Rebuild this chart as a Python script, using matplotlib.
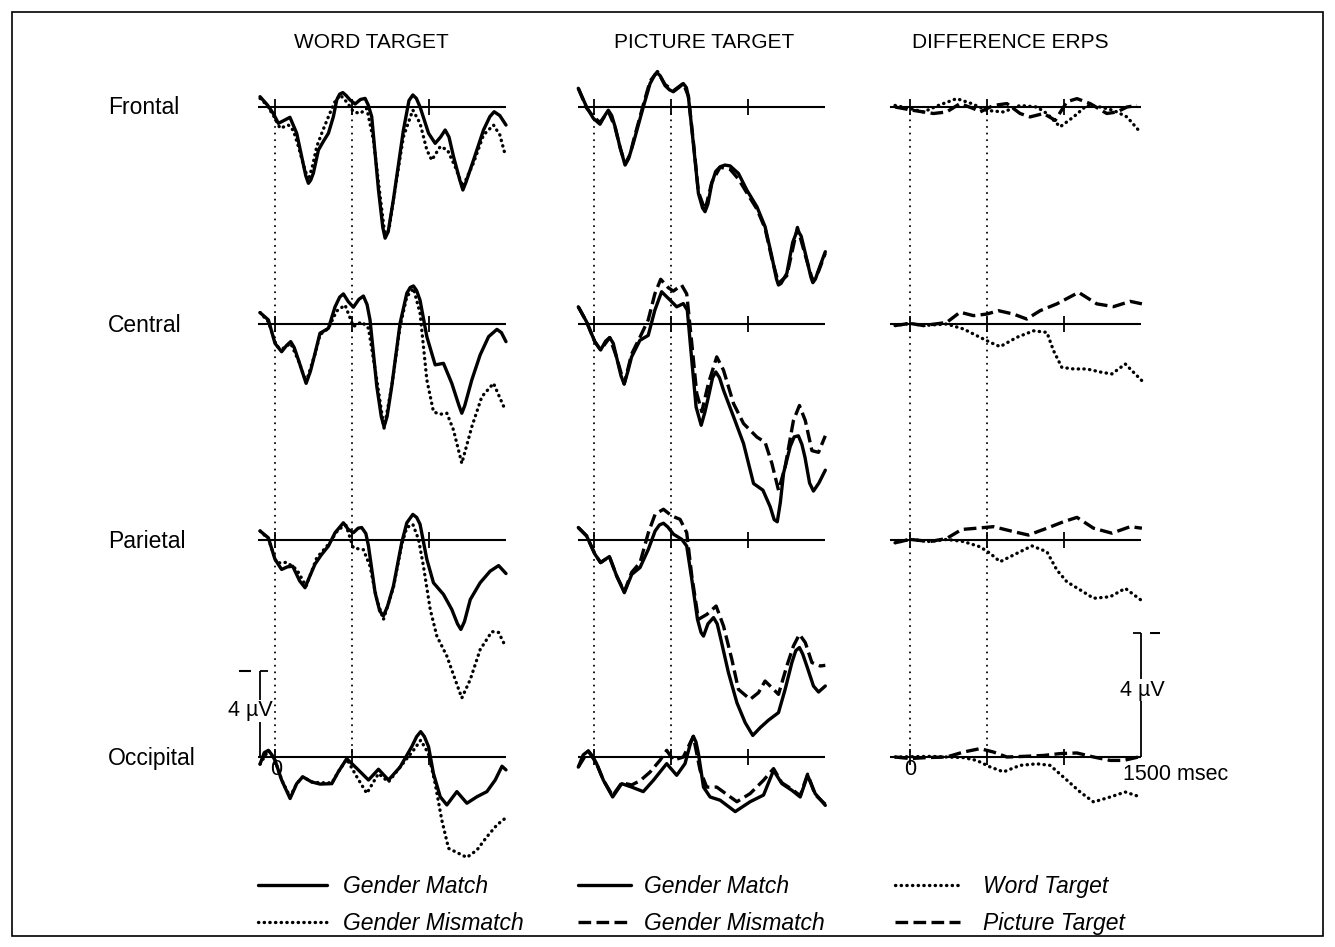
import matplotlib.pyplot as plt
from matplotlib.lines import Line2D
from matplotlib.patches import Rectangle

plt.rcParams['font.family'] = ['Liberation Sans', 'DejaVu Sans']

# column titles, row labels, legend labels
columns = ['WORD TARGET', 'PICTURE TARGET', 'DIFFERENCE ERPS']
sites = ['Frontal', 'Central', 'Parietal', 'Occipital']
legend_labels = [['Gender Match', 'Gender Mismatch'],
                 ['Gender Match', 'Gender Mismatch'],
                 ['Word Target', 'Picture Target']]
tick_ms = [0, 500, 1000]
ref_ms = [0, 500]

# grand averages: (msec, microvolt), negative plotted up
word_frontal_match = [(-97, -0.48), (-50, -0.1), (-11, 0.3), (22, 0.76), (60, 0.62), (97, 0.48), (141, 1.22),
                      (173, 2.3), (200, 3.2), (217, 3.55), (232, 3.4), (249, 3.08), (282, 2.0), (314, 1.6),
                      (347, 1.22), (379, 0.45), (401, -0.33), (420, -0.6), (440, -0.67), (460, -0.55),
                      (487, -0.33), (520, -0.14), (555, -0.35), (585, -0.4), (605, -0.1), (628, 0.45),
                      (672, 3.86), (700, 5.6), (715, 6.1), (735, 5.8), (769, 4.3), (834, 1.07), (870, -0.3),
                      (895, -0.56), (918, -0.4), (942, 0.0), (997, 1.22), (1040, 1.69), (1075, 1.4),
                      (1105, 1.07), (1130, 1.4), (1159, 2.3), (1200, 3.4), (1220, 3.86), (1240, 3.5),
                      (1289, 2.47), (1354, 1.07), (1395, 0.45), (1423, 0.22), (1460, 0.4), (1500, 0.84)]
word_frontal_mismatch = [(-97, -0.4), (-54, -0.1), (-10, 0.4), (33, 0.99), (87, 0.84), (120, 1.1), (152, 1.84),
                         (185, 2.7), (217, 3.4), (245, 2.7), (271, 1.84), (310, 1.1), (347, 0.45), (385, -0.2),
                         (423, -0.56), (470, -0.2), (509, 0.22), (553, 0.3), (596, 0.07), (639, 1.53),
                         (683, 4.17), (715, 6.03), (740, 5.7), (769, 4.3), (834, 1.38), (895, 0.14), (942, 0.76),
                         (986, 2.0), (1018, 2.47), (1073, 1.84), (1120, 2.0), (1170, 2.78), (1220, 3.7),
                         (1289, 2.6), (1354, 1.3), (1419, 0.84), (1460, 1.3), (1495, 2.23)]
word_central_match = [(-97, -0.53), (-43, -0.19), (0, 0.9), (43, 1.29), (75, 1.0), (102, 0.82), (125, 1.1),
                      (152, 1.67), (202, 2.76), (230, 2.2), (260, 1.36), (292, 0.43), (347, 0.2), (390, -0.8),
                      (420, -1.25), (444, -1.4), (475, -1.05), (509, -0.78), (545, -1.15), (574, -1.3),
                      (598, -0.9), (617, -0.19), (661, 2.9), (690, 4.3), (708, 4.78), (728, 4.3), (758, 2.9),
                      (812, -0.03), (856, -1.43), (878, -1.7), (899, -1.77), (920, -1.55), (942, -1.1),
                      (986, 0.59), (1040, 1.9), (1094, 1.83), (1148, 2.76), (1195, 3.8), (1213, 4.15),
                      (1232, 3.8), (1278, 2.6), (1332, 1.44), (1387, 0.59), (1441, 0.25), (1470, 0.4),
                      (1500, 0.82)]
word_central_mismatch = [(-97, -0.53), (-43, -0.1), (11, 1.05), (54, 1.13), (102, 0.9), (152, 1.7), (202, 2.7),
                         (260, 1.4), (292, 0.5), (347, 0.2), (400, -0.6), (455, -0.88), (509, 0.12),
                         (563, -0.1), (607, 0.2), (661, 2.6), (708, 4.85), (758, 2.9), (812, 0.12),
                         (856, -1.27), (899, -1.66), (942, -0.5), (986, 2.6), (1029, 4.08), (1070, 4.2),
                         (1116, 4.15), (1159, 4.93), (1213, 6.48), (1278, 4.78), (1343, 3.38), (1419, 2.76),
                         (1495, 4.0)]
word_parietal_match = [(-97, -0.42), (-43, -0.1), (0, 0.9), (43, 1.37), (80, 1.25), (115, 1.22), (160, 1.9),
                       (195, 2.22), (225, 1.7), (260, 1.12), (300, 0.7), (347, 0.28), (390, -0.34),
                       (444, -0.8), (475, -0.5), (509, -0.34), (540, -0.55), (563, -0.58), (590, -0.3),
                       (607, 0.28), (650, 2.45), (680, 3.3), (704, 3.53), (730, 3.1), (769, 2.14),
                       (823, 0.12), (856, -0.8), (895, -1.19), (920, -1.05), (942, -0.73), (986, 0.9),
                       (1029, 1.99), (1094, 2.53), (1148, 3.23), (1185, 3.9), (1207, 4.16), (1230, 3.8),
                       (1268, 2.77), (1332, 1.99), (1397, 1.45), (1452, 1.19), (1500, 1.56)]
word_parietal_mismatch = [(-97, -0.42), (-43, -0.05), (11, 1.07), (76, 1.04), (141, 1.37), (202, 2.15),
                          (271, 0.83), (347, 0.2), (412, -0.5), (461, -0.68), (509, 0.37), (574, 0.45),
                          (617, 1.22), (661, 2.77), (704, 3.7), (769, 2.2), (823, 0.2), (856, -0.58),
                          (895, -0.73), (932, -0.03), (964, 1.22), (1008, 3.23), (1051, 4.47), (1116, 5.4),
                          (1170, 6.49), (1213, 7.35), (1268, 6.49), (1332, 5.1), (1408, 4.26), (1452, 4.3),
                          (1495, 4.93)]
word_occipital_match = [(-97, 0.33), (-70, -0.2), (-43, -0.31), (-20, -0.1), (0, 0.15), (43, 1.07), (98, 1.93),
                        (141, 1.24), (180, 0.92), (238, 1.16), (293, 1.26), (369, 1.24), (412, 0.68),
                        (466, 0.08), (531, 0.53), (607, 1.07), (672, 0.57), (737, 1.07), (812, 0.47),
                        (888, -0.48), (920, -0.95), (946, -1.18), (970, -0.95), (997, -0.48), (1029, 0.77),
                        (1073, 1.85), (1116, 2.23), (1181, 1.61), (1246, 2.15), (1311, 1.85), (1376, 1.61),
                        (1430, 1.07), (1474, 0.43), (1500, 0.6)]
word_occipital_mismatch = [(-97, 0.33), (-43, -0.31), (0, 0.15), (43, 1.07), (98, 1.85), (141, 1.24),
                           (180, 0.92), (238, 1.16), (293, 1.2), (369, 1.2), (412, 0.68), (466, 0.1),
                           (531, 0.92), (596, 1.69), (672, 0.77), (737, 1.16), (812, 0.47), (899, -0.31),
                           (946, -0.78), (997, -0.15), (1040, 1.24), (1083, 2.93), (1127, 4.25), (1192, 4.48),
                           (1246, 4.67), (1311, 4.33), (1376, 3.71), (1441, 3.16), (1495, 2.85)]

pic_frontal_match = [(-102, -0.87), (-48, 0.0), (-4, 0.53), (39, 0.8), (70, 0.4), (93, 0.15), (115, 0.4),
                     (137, 0.92), (170, 1.9), (202, 2.7), (225, 2.4), (255, 1.69), (320, 0.0), (364, -1.09),
                     (395, -1.5), (412, -1.58), (430, -1.45), (461, -1.0), (490, -0.8), (515, -0.71),
                     (550, -0.9), (580, -1.09), (600, -0.9), (613, -0.47), (645, 1.69), (678, 4.02),
                     (705, 4.7), (721, 4.87), (740, 4.5), (765, 3.55), (790, 3.0), (819, 2.78), (850, 2.7),
                     (884, 2.74), (938, 3.09), (993, 3.87), (1058, 4.64), (1111, 5.57), (1155, 6.96),
                     (1185, 8.0), (1198, 8.28), (1215, 8.2), (1252, 7.74), (1290, 6.3), (1321, 5.72),
                     (1345, 6.0), (1372, 6.8), (1408, 7.9), (1421, 8.17), (1438, 8.0), (1458, 7.58),
                     (1502, 6.73)]
pic_frontal_mismatch = [(-102, -0.87), (-48, 0.05), (-4, 0.45), (39, 0.72), (93, 0.2), (137, 0.95), (170, 1.9),
                        (202, 2.65), (235, 2.2), (255, 1.6), (320, -0.1), (364, -1.2), (412, -1.65),
                        (461, -1.05), (515, -0.75), (580, -1.1), (613, -0.5), (645, 1.6), (678, 3.95),
                        (721, 4.8), (765, 3.5), (819, 2.8), (884, 2.9), (938, 3.35), (993, 4.0), (1058, 4.75),
                        (1111, 5.65), (1155, 7.05), (1198, 8.2), (1252, 7.85), (1321, 5.6), (1372, 6.9),
                        (1421, 8.1), (1458, 7.65), (1502, 6.8)]
pic_central_match = [(-102, -0.8), (-48, -0.1), (5, 0.82), (43, 1.21), (75, 0.8), (102, 0.63), (125, 0.9),
                     (146, 1.53), (175, 2.4), (196, 2.79), (220, 2.2), (244, 1.53), (298, 0.76), (352, 0.53),
                     (395, -0.64), (439, -1.5), (493, -1.12), (537, -0.8), (580, -0.95), (606, -0.64),
                     (635, 1.69), (663, 3.86), (696, 4.71), (720, 4.1), (743, 3.39), (770, 2.5), (791, 2.23),
                     (815, 2.5), (841, 3.08), (906, 4.31), (971, 5.56), (1036, 7.42), (1097, 7.73),
                     (1144, 8.5), (1170, 9.1), (1190, 9.2), (1210, 8.3), (1231, 6.93), (1274, 5.7),
                     (1300, 5.25), (1327, 5.2), (1350, 5.6), (1370, 6.2), (1400, 7.4), (1425, 7.77),
                     (1460, 7.4), (1502, 6.8)]
pic_central_mismatch = [(-102, -0.8), (-48, -0.1), (5, 0.82), (43, 1.21), (102, 0.63), (146, 1.53), (196, 2.79),
                        (244, 1.4), (298, 0.62), (352, -0.19), (395, -1.4), (433, -2.08), (482, -1.69),
                        (515, -1.53), (569, -1.81), (602, -1.4), (635, 0.9), (667, 3.22), (700, 4.08),
                        (743, 2.76), (797, 1.53), (841, 2.15), (906, 3.7), (971, 4.63), (1058, 5.26),
                        (1111, 5.5), (1155, 6.48), (1198, 7.73), (1241, 6.65), (1295, 4.49), (1334, 3.79),
                        (1372, 4.49), (1415, 5.89), (1458, 5.97), (1502, 5.2)]
pic_parietal_match = [(-102, -0.58), (-48, -0.19), (6, 0.66), (43, 1.05), (100, 0.77), (147, 1.67), (197, 2.45),
                      (245, 1.6), (299, 1.28), (353, 0.43), (397, -0.42), (425, -0.7), (451, -0.78),
                      (480, -0.6), (516, -0.27), (570, -0.03), (602, 0.28), (635, 1.83), (672, 3.69),
                      (695, 4.3), (711, 4.47), (740, 3.9), (776, 3.61), (800, 3.9), (819, 4.47), (873, 6.17),
                      (928, 7.57), (982, 8.5), (1031, 9.09), (1079, 8.73), (1133, 8.38), (1198, 8.03),
                      (1241, 6.95), (1285, 5.7), (1310, 5.15), (1334, 5.0), (1355, 5.3), (1382, 5.86),
                      (1425, 6.79), (1458, 7.07), (1502, 6.79)]
pic_parietal_mismatch = [(-102, -0.58), (-48, -0.19), (6, 0.66), (43, 1.05), (100, 0.77), (147, 1.67),
                         (197, 2.4), (245, 1.5), (299, 1.05), (353, -0.34), (397, -1.2), (451, -1.43),
                         (505, -1.12), (559, -0.96), (602, -0.34), (635, 1.67), (678, 3.69), (733, 3.46),
                         (793, 3.07), (841, 4.0), (895, 5.55), (938, 6.95), (1014, 7.41), (1068, 7.1),
                         (1111, 6.56), (1155, 6.87), (1198, 7.18), (1252, 5.86), (1295, 4.93), (1334, 4.39),
                         (1372, 4.77), (1415, 5.7), (1469, 5.86), (1502, 5.83)]
pic_occipital_match = [(-102, 0.47), (-70, -0.1), (-37, -0.28), (-10, -0.05), (17, 0.31), (61, 1.08),
                       (121, 1.86), (180, 1.24), (245, 1.4), (320, 1.61), (386, 1.08), (472, 0.31), (537, 0.85),
                       (591, 0.31), (625, -0.6), (645, -0.96), (662, -0.7), (678, -0.16), (711, 1.4),
                       (754, 1.86), (819, 2.01), (917, 2.54), (1014, 2.08), (1101, 1.77), (1166, 0.62),
                       (1220, 1.24), (1285, 1.55), (1339, 1.86), (1387, 0.85), (1436, 1.7), (1502, 2.25)]
pic_occipital_mismatch = [(-102, 0.47), (-37, -0.28), (17, 0.31), (61, 1.08), (121, 1.8), (180, 1.2), (245, 1.3),
                          (300, 1.1), (364, 0.7), (429, 0.15), (472, -0.31), (515, 0.15), (580, 0.0),
                          (645, -0.96), (689, 0.62), (732, 1.4), (797, 1.4), (928, 2.08), (1014, 1.7),
                          (1101, 1.08), (1166, 0.54), (1220, 1.2), (1285, 1.5), (1339, 1.8), (1387, 0.8),
                          (1436, 1.75), (1502, 2.2)]

diff_frontal_word = [(-97, -0.05), (0, 0.05), (87, 0.16), (184, -0.05), (303, -0.27), (401, -0.11), (498, 0.11),
                     (607, 0.16), (715, -0.05), (824, 0.0), (889, 0.21), (975, 0.64), (1062, 0.32),
                     (1148, -0.05), (1235, 0.0), (1322, 0.11), (1409, 0.32), (1495, 0.81)]
diff_frontal_pic = [(-97, 0.0), (22, 0.11), (152, 0.21), (238, 0.16), (325, -0.11), (412, 0.05), (455, 0.16),
                    (542, -0.05), (629, -0.11), (715, 0.21), (780, 0.32), (867, 0.21), (943, 0.43),
                    (1019, -0.17), (1084, -0.27), (1170, -0.11), (1278, 0.21), (1344, 0.16), (1409, 0.0),
                    (1474, -0.05)]
diff_central_word = [(-97, 0.05), (0, -0.02), (87, 0.05), (238, 0.0), (347, 0.16), (455, 0.43), (520, 0.59),
                     (585, 0.73), (694, 0.43), (802, 0.22), (889, 0.27), (932, 0.86), (986, 1.4), (1062, 1.45),
                     (1148, 1.45), (1246, 1.56), (1311, 1.61), (1398, 1.29), (1506, 1.83)]
diff_central_pic = [(-97, 0.05), (0, -0.02), (87, 0.05), (238, -0.05), (325, -0.38), (412, -0.27), (498, -0.32),
                    (574, -0.43), (672, -0.32), (758, -0.16), (845, -0.43), (954, -0.65), (1095, -1.02),
                    (1213, -0.65), (1322, -0.56), (1430, -0.73), (1506, -0.65)]
diff_parietal_word = [(-97, 0.09), (0, -0.02), (130, 0.05), (238, -0.02), (347, 0.05), (455, 0.22), (520, 0.43),
                      (585, 0.7), (694, 0.43), (792, 0.19), (889, 0.38), (954, 0.97), (1019, 1.35),
                      (1105, 1.61), (1192, 1.88), (1300, 1.83), (1398, 1.56), (1506, 1.96)]
diff_parietal_pic = [(-97, 0.09), (0, -0.02), (130, 0.05), (238, -0.05), (336, -0.34), (433, -0.38),
                     (542, -0.43), (672, -0.27), (769, -0.16), (889, -0.38), (997, -0.59), (1084, -0.73),
                     (1192, -0.38), (1311, -0.22), (1430, -0.43), (1506, -0.38)]
diff_occipital_word = [(-97, 0.0), (130, -0.02), (347, 0.02), (433, 0.11), (520, 0.32), (607, 0.48), (715, 0.27),
                       (824, 0.22), (910, 0.27), (997, 0.65), (1105, 1.13), (1192, 1.45), (1300, 1.29),
                       (1398, 1.13), (1484, 1.27)]
diff_occipital_pic = [(-97, 0.0), (0, 0.05), (108, 0.02), (238, 0.0), (347, -0.16), (455, -0.27), (542, -0.16),
                      (629, 0.0), (737, -0.02), (867, -0.05), (975, -0.11), (1084, -0.13), (1192, 0.0),
                      (1300, 0.11), (1387, 0.11), (1484, 0.0)]

curves = [
    [(word_frontal_match, word_frontal_mismatch), (pic_frontal_match, pic_frontal_mismatch),
     (diff_frontal_word, diff_frontal_pic)],
    [(word_central_match, word_central_mismatch), (pic_central_match, pic_central_mismatch),
     (diff_central_word, diff_central_pic)],
    [(word_parietal_match, word_parietal_mismatch), (pic_parietal_match, pic_parietal_mismatch),
     (diff_parietal_word, diff_parietal_pic)],
    [(word_occipital_match, word_occipital_mismatch), (pic_occipital_match, pic_occipital_mismatch),
     (diff_occipital_word, diff_occipital_pic)],
]

# line styles
solid = dict(color='black', ls='-', lw=2.4, solid_capstyle='round', solid_joinstyle='round')
dotted = dict(color='black', ls=(0, (0.1, 1.6)), lw=2.4, dash_capstyle='round', dash_joinstyle='round')
dashed = dict(color='black', ls=(0, (3.8, 1.6)), lw=2.4, dash_capstyle='butt', dash_joinstyle='round')
col_styles = [(solid, dotted), (solid, dashed), (dotted, dashed)]

# layout (pixels)
W, H = 1335, 947
zero_px = [275, 594, 910]
epoch_start = [-110, -105, -130]
px_per_ms = 231.0 / 1500
baseline_px = [107, 324, 540, 757]
uv_px = [21.5, 21.5, 31.0]
xlim = (-260, 1680)

fig = plt.figure(figsize=(W / 100, H / 100), dpi=100)

axes = {}
for r in range(4):
    for c in range(3):
        left = zero_px[c] + xlim[0] * px_per_ms
        width = (xlim[1] - xlim[0]) * px_per_ms
        top = baseline_px[r] - 125
        bottom = baseline_px[r + 1] if r < 3 else baseline_px[r] + 140
        ax = fig.add_axes([left / W, 1 - bottom / H, width / W, (bottom - top) / H])
        ax.patch.set_alpha(0)
        s = uv_px[c]
        ybot = (bottom - baseline_px[r]) / s
        ax.set_xlim(xlim)
        ax.set_ylim(ybot, (top - baseline_px[r]) / s)
        ax.axis('off')

        # baseline, ticks and reference lines
        ax.hlines(0, epoch_start[c], 1500, color='black', lw=1.5)
        ax.vlines(tick_ms, -8 / s, 8 / s, color='black', lw=1.3)
        if r < 3:
            ax.vlines(ref_ms, 0, ybot, color='black', lw=1.4,
                      linestyles=[(0, (0.1, 3.3))], capstyle='round')

        a, b = curves[r][c]
        st_a, st_b = col_styles[c]
        ax.plot([p[0] for p in b], [p[1] for p in b], clip_on=False, **st_b)
        ax.plot([p[0] for p in a], [p[1] for p in a], clip_on=False, **st_a)
        axes[(r, c)] = ax

# calibration bars
ax = axes[(3, 0)]
ax.vlines(-97, -4, 0, color='black', lw=1.3)
ax.hlines(-4, -97, -45, color='black', lw=1.3)
ax.hlines(-4, -234, -156, color='black', lw=1.5)
ax.text(-160, -2.15, '4 µV', ha='center', va='center', fontsize=15.5,
        bbox=dict(facecolor='white', edgecolor='none', pad=0.5))
ax.text(8, 0.6, '0', ha='center', va='center', fontsize=15.5)

ax = axes[(3, 2)]
ax.vlines(1500, -4, 0, color='black', lw=1.3)
ax.hlines(-4, 1448, 1500, color='black', lw=1.3)
ax.hlines(-4, 1560, 1625, color='black', lw=1.5)
ax.text(1510, -2.16, '4 µV', ha='center', va='center', fontsize=15.5,
        bbox=dict(facecolor='white', edgecolor='none', pad=0.5))
ax.text(0, 0.4, '0', ha='center', va='center', fontsize=15.5)
ax.text(1385, 0.55, '1500 msec', ha='left', va='center', fontsize=15.5)

# titles and site labels
title_x = [371, 704, 1010]
for c, t in enumerate(columns):
    fig.text(title_x[c] / W, 1 - 43 / H, t, ha='center', va='center', fontsize=15)
for r, s in enumerate(sites):
    fig.text(108 / W, 1 - (baseline_px[r] + 1) / H, s, ha='left', va='center', fontsize=16.5)

# legends
leg_x = [258, 578, 895]
handle_len = [3.0, 2.3, 2.85]
text_pad = [0.7, 0.6, 1.0]
for c in range(3):
    st_a, st_b = col_styles[c]
    handles = [Line2D([], [], **st_a), Line2D([], [], **st_b)]
    fig.legend(handles, legend_labels[c], loc='upper left',
               bbox_to_anchor=(leg_x[c] / W, 1 - 875 / H), frameon=False,
               borderpad=0, borderaxespad=0, handlelength=handle_len[c],
               handletextpad=text_pad[c], labelspacing=0.62,
               prop=dict(style='italic', size=16.5))

# frame around the whole figure
fig.add_artist(Rectangle((12 / W, 1 - 936 / H), (1323 - 12) / W, (936 - 12) / H,
                         transform=fig.transFigure, fill=False, lw=1.2, color='black'))

fig.savefig('out.png', dpi=100)
